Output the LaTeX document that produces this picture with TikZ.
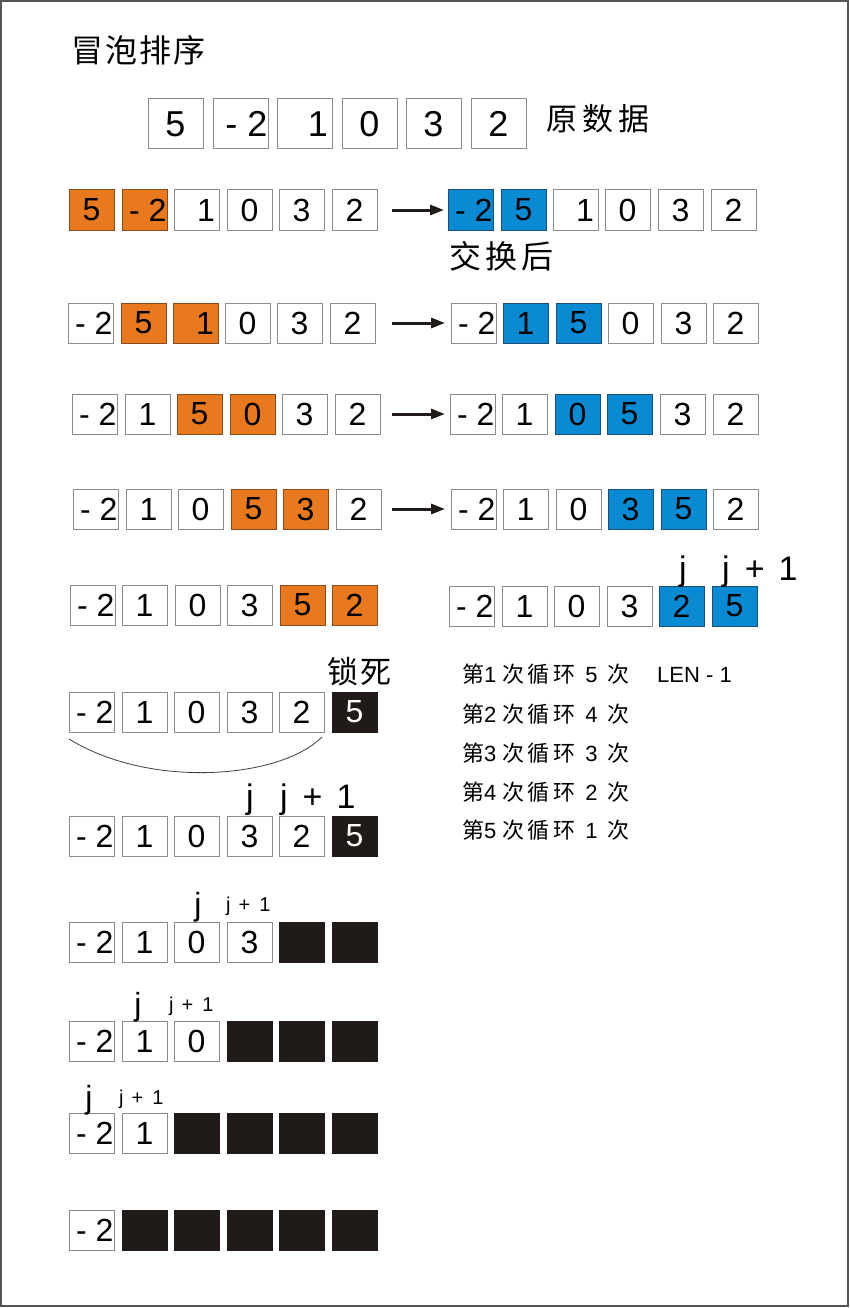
\documentclass[tikz,border=0pt]{standalone}
\usepackage{fontspec}
\setmainfont{Liberation Sans}
\newfontfamily\cjk{Noto Sans CJK SC}
\usetikzlibrary{arrows.meta}
\definecolor{org}{HTML}{E8791E}
\definecolor{orgline}{HTML}{8A4B1C}
\definecolor{blu}{HTML}{0A8AD2}
\definecolor{bluline}{HTML}{1D4E78}
\definecolor{blk}{HTML}{201B18}
\definecolor{gline}{HTML}{8C8C8C}
\definecolor{fcol}{HTML}{555555}
\newcommand\cell[5]{\node[#2] (#1) at (#3,#4) {#5};}
\newcommand\mtwo[1][44]{\makebox[#1pt][r]{- 2}}
\newcommand\onr[1][45]{\makebox[#1pt][r]{1\hspace{4pt}}}
\newcommand\looptxt[2]{{\cjk 第}\hspace{0pt}#1\hspace{6pt}{\cjk 次}\hspace{3pt}{\cjk 循}\hspace{4pt}{\cjk 环}\hspace{10pt}#2\hspace{10pt}{\cjk 次}}
\begin{document}
\begin{tikzpicture}[x=1pt,y=-1pt,
  wb/.style={draw=gline, fill=white, line width=1pt, minimum width=45pt, minimum height=40pt,
    inner sep=0pt, outer sep=0pt, anchor=north west, font=\fontsize{32}{36}\selectfont, text=black},
  big/.style={wb, minimum width=55pt, minimum height=50pt, font=\fontsize{36}{40}\selectfont},
  ob/.style={wb, fill=org, draw=orgline},
  bb/.style={wb, fill=blu, draw=bluline},
  kb/.style={wb, fill=blk, draw=blk, text=white},
  arr/.style={line width=3pt, draw=blk, -{Triangle[length=14pt,width=10pt]}},
  cjkt/.style={inner sep=0pt, anchor=base west, font=\cjk\fontsize{31}{36}\selectfont},
  jbig/.style={inner sep=0pt, anchor=base, font=\fontsize{34}{40}\selectfont},
  jplus/.style={inner sep=0pt, anchor=base west, font=\fontsize{34}{40}\selectfont},
  jsmall/.style={inner sep=0pt, anchor=base west, font=\fontsize{20}{24}\selectfont},
  listtxt/.style={inner sep=0pt, anchor=base west, font=\fontsize{22}{26}\selectfont},
]
\useasboundingbox (0,0) rectangle (850,1308);
\draw[fcol, line width=1.5pt] (1,1) rectangle (848,1306);

% title
\node[cjkt, font=\cjk\fontsize{32}{36}\selectfont] (title) at (71,63) {冒\hspace{2pt}泡\hspace{2pt}排\hspace{2pt}序};

% row 0 original data
\cell{r0a}{big}{148}{99}{5}
\cell{r0b}{big}{213}{99}{\mtwo[54]}
\cell{r0c}{big}{277}{99}{\onr[55]}
\cell{r0d}{big}{342}{99}{0}
\cell{r0e}{big}{406}{99}{3}
\cell{r0f}{big}{471}{99}{2}
\node[cjkt] (orig) at (546,131) {原\hspace{5pt}数\hspace{5pt}据};

% row 1
\cell{l1a}{ob}{69}{190}{5}
\cell{l1b}{ob}{122}{190}{\mtwo}
\cell{l1c}{wb}{174}{190}{\onr}
\cell{l1d}{wb}{227}{190}{0}
\cell{l1e}{wb}{279}{190}{3}
\cell{l1f}{wb}{332}{190}{2}
\cell{r1a}{bb}{448}{190}{\mtwo}
\cell{r1b}{bb}{501}{190}{5}
\cell{r1c}{wb}{553}{190}{\onr}
\cell{r1d}{wb}{605}{190}{0}
\cell{r1e}{wb}{658}{190}{3}
\cell{r1f}{wb}{711}{190}{2}
\draw[arr, shorten <=15pt, shorten >=4pt] (l1f.east) -- (r1a.west);
\node[cjkt, font=\cjk\fontsize{32}{36}\selectfont] (swap) at (449,268) {交\hspace{4pt}换\hspace{4pt}后};

% row 2
\cell{l2a}{wb}{68}{303}{\mtwo}
\cell{l2b}{ob}{121}{303}{5}
\cell{l2c}{ob}{173}{303}{\onr}
\cell{l2d}{wb}{225}{303}{0}
\cell{l2e}{wb}{277}{303}{3}
\cell{l2f}{wb}{330}{303}{2}
\cell{r2a}{wb}{451}{303}{\mtwo}
\cell{r2b}{bb}{503}{303}{1}
\cell{r2c}{bb}{556}{303}{5}
\cell{r2d}{wb}{608}{303}{0}
\cell{r2e}{wb}{661}{303}{3}
\cell{r2f}{wb}{713}{303}{2}
\draw[arr, shorten <=17pt, shorten >=6pt] (l2f.east) -- (r2a.west);

% row 3
\cell{l3a}{wb}{72}{394}{\mtwo}
\cell{l3b}{wb}{125}{394}{1}
\cell{l3c}{ob}{177}{394}{5}
\cell{l3d}{ob}{230}{394}{0}
\cell{l3e}{wb}{282}{394}{3}
\cell{l3f}{wb}{335}{394}{2}
\cell{r3a}{wb}{450}{394}{\mtwo}
\cell{r3b}{wb}{502}{394}{1}
\cell{r3c}{bb}{555}{394}{0}
\cell{r3d}{bb}{607}{394}{5}
\cell{r3e}{wb}{660}{394}{3}
\cell{r3f}{wb}{713}{394}{2}
\draw[arr, shorten <=12pt, shorten >=5pt] (l3f.east) -- (r3a.west);

% row 4
\cell{l4a}{wb}{73}{489}{\mtwo}
\cell{l4b}{wb}{126}{489}{1}
\cell{l4c}{wb}{178}{489}{0}
\cell{l4d}{ob}{231}{489}{5}
\cell{l4e}{ob}{283}{489}{3}
\cell{l4f}{wb}{336}{489}{2}
\cell{r4a}{wb}{451}{489}{\mtwo}
\cell{r4b}{wb}{503}{489}{1}
\cell{r4c}{wb}{556}{489}{0}
\cell{r4d}{bb}{608}{489}{3}
\cell{r4e}{bb}{661}{489}{5}
\cell{r4f}{wb}{713}{489}{2}
\draw[arr, shorten <=11pt, shorten >=6pt] (l4f.east) -- (r4a.west);

% row 5
\cell{l5a}{wb}{70}{585}{\mtwo}
\cell{l5b}{wb}{122}{585}{1}
\cell{l5c}{wb}{175}{585}{0}
\cell{l5d}{wb}{227}{585}{3}
\cell{l5e}{ob}{280}{585}{5}
\cell{l5f}{ob}{332}{585}{2}
\cell{r5a}{wb}{449}{586}{\mtwo}
\cell{r5b}{wb}{502}{586}{1}
\cell{r5c}{wb}{554}{586}{0}
\cell{r5d}{wb}{607}{586}{3}
\cell{r5e}{bb}{659}{586}{2}
\cell{r5f}{bb}{712}{586}{5}
\node[jbig] (j5) at (683,580) {j};
\node[jplus] (j5p) at (722,580) {j\hspace{15pt}+\hspace{14pt}1};

% loop list
\node[listtxt] (t1) at (462,682) {\looptxt{1}{5}};
\node[listtxt] (len) at (657,682) {LEN - 1};
\node[listtxt] (t2) at (462,722) {\looptxt{2}{4}};
\node[listtxt] (t3) at (462,761) {\looptxt{3}{3}};
\node[listtxt] (t4) at (462,800) {\looptxt{4}{2}};
\node[listtxt] (t5) at (462,838) {\looptxt{5}{1}};

% row 6 locked
\node[cjkt] (lock) at (327,683) {锁\hspace{2pt}死};
\cell{s6a}{wb}{69}{692}{\mtwo}
\cell{s6b}{wb}{122}{692}{1}
\cell{s6c}{wb}{174}{692}{0}
\cell{s6d}{wb}{227}{692}{3}
\cell{s6e}{wb}{279}{692}{2}
\cell{s6f}{kb}{332}{692}{5}
\draw[draw=blk!85, line width=0.8pt] ([yshift=-7pt]s6a.south west) .. controls +(81,50) and +(-42,42) .. ([xshift=-2pt,yshift=-5pt]s6e.south east);

% row 7
\cell{s7a}{wb}{69}{816}{\mtwo}
\cell{s7b}{wb}{122}{816}{1}
\cell{s7c}{wb}{174}{816}{0}
\cell{s7d}{wb}{227}{816}{3}
\cell{s7e}{wb}{279}{816}{2}
\cell{s7f}{kb}{332}{816}{5}
\node[jbig] (j7) at (250,808) {j};
\node[jplus] (j7p) at (280,808) {j\hspace{15pt}+\hspace{14pt}1};

% row 8
\cell{s8a}{wb}{69}{922}{\mtwo}
\cell{s8b}{wb}{122}{922}{1}
\cell{s8c}{wb}{174}{922}{0}
\cell{s8d}{wb}{227}{922}{3}
\cell{s8e}{kb}{279}{922}{}
\cell{s8f}{kb}{332}{922}{}
\node[jbig, font=\fontsize{32}{36}\selectfont] (j8) at (198,915) {j};
\node[jsmall] (j8p) at (226,911) {j\hspace{8pt}+\hspace{9pt}1};

% row 9
\cell{s9a}{wb}{69}{1021}{\mtwo}
\cell{s9b}{wb}{122}{1021}{1}
\cell{s9c}{wb}{174}{1021}{0}
\cell{s9d}{kb}{227}{1021}{}
\cell{s9e}{kb}{279}{1021}{}
\cell{s9f}{kb}{332}{1021}{}
\node[jbig, font=\fontsize{32}{36}\selectfont] (j9) at (138,1015) {j};
\node[jsmall] (j9p) at (169,1011) {j\hspace{8pt}+\hspace{9pt}1};

% row 10
\cell{s10a}{wb}{69}{1113}{\mtwo}
\cell{s10b}{wb}{122}{1113}{1}
\cell{s10c}{kb}{174}{1113}{}
\cell{s10d}{kb}{227}{1113}{}
\cell{s10e}{kb}{279}{1113}{}
\cell{s10f}{kb}{332}{1113}{}
\node[jbig, font=\fontsize{32}{36}\selectfont] (j10) at (89,1108) {j};
\node[jsmall] (j10p) at (119,1104) {j\hspace{8pt}+\hspace{9pt}1};

% row 11
\cell{s11a}{wb}{69}{1210}{\mtwo}
\cell{s11b}{kb}{122}{1210}{}
\cell{s11c}{kb}{174}{1210}{}
\cell{s11d}{kb}{227}{1210}{}
\cell{s11e}{kb}{279}{1210}{}
\cell{s11f}{kb}{332}{1210}{}
\end{tikzpicture}
\end{document}
